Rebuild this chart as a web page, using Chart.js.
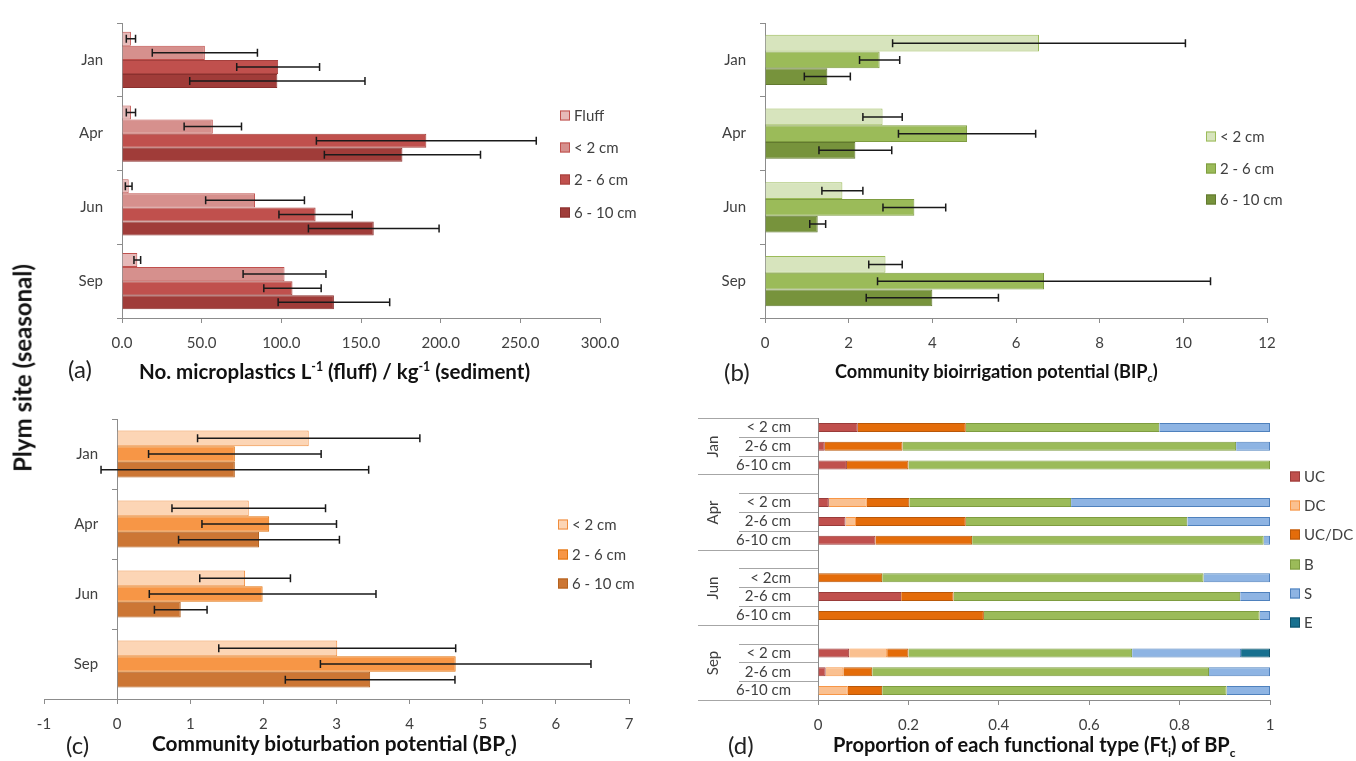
<!DOCTYPE html>
<html>
<head>
<meta charset="utf-8">
<script src="https://cdn.jsdelivr.net/npm/chart.js@4.4.1/dist/chart.umd.min.js"></script>
<style>
  body { margin: 0; background: #fff; width: 1356px; height: 761px; position: relative; overflow: hidden;
         font-family: Lato, "Open Sans", sans-serif; color: #404040; }
  canvas { position: absolute; }
  .t { position: absolute; white-space: nowrap; line-height: 1; transform: translateY(-50%); }
  .lab { font-size: 24px; color: #222; }
  .ttl { font-weight: bold; color: #111; }
  .ttl sub, .ttl sup { font-size: 60%; }
  .leg { position: absolute; font-size: 15px; line-height: 1; white-space: nowrap; transform: translateY(-50%); }
  .leg i { display: inline-block; width: 8px; height: 8px; border: 1px solid; margin-right: 4px; vertical-align: 0; }
  #ylab { position: absolute; left: 22px; top: 368px; transform: translate(-50%, -50%) rotate(-90deg);
          font-size: 24px; font-weight: bold; color: #111; white-space: nowrap; }
</style>
</head>
<body>
<canvas id="chartA" width="620" height="360" style="left:40px;top:0px"></canvas>
<canvas id="chartB" width="656" height="360" style="left:700px;top:0px"></canvas>
<canvas id="chartC" width="660" height="340" style="left:0px;top:400px"></canvas>
<canvas id="chartD" width="666" height="371" style="left:690px;top:390px"></canvas>

<div id="ylab">Plym site (seasonal)</div>
<div class="t lab" style="left:68px;top:369px">(a)</div>
<div class="t ttl" style="left:139px;top:371px;font-size:20.5px">No. microplastics L<sup>-1</sup> (fluff) / kg<sup>-1</sup> (sediment)</div>
<div class="t lab" style="left:724px;top:372px">(b)</div>
<div class="t ttl" style="left:835px;top:373px;font-size:18.2px">Community bioirrigation potential (BIP<sub>c</sub>)</div>
<div class="t lab" style="left:66px;top:745px">(c)</div>
<div class="t ttl" style="left:152px;top:746px;font-size:20.8px">Community bioturbation potential (BP<sub>c</sub>)</div>
<div class="t lab" style="left:728px;top:745px">(d)</div>
<div class="t ttl" style="left:833px;top:746px;font-size:20px">Proportion of each functional type (Ft<sub>i</sub>) of BP<sub>c</sub></div>

<script>
/* ===== Data ===== */
const MONTHS = ['Jan', 'Apr', 'Jun', 'Sep'];

// (a) microplastics per L (fluff) / kg (sediment)
const MP_SERIES   = ['Fluff', '< 2 cm', '2 - 6 cm', '6 - 10 cm'];
const mpFluff     = [5.6, 5.6, 4.2, 9.6];
const mpFluffErr  = [2.9, 2.9, 2.1, 2.1];
const mpLt2       = [52, 57, 83.5, 102];
const mpLt2Err    = [33, 18, 31, 26];
const mp2to6      = [98, 191, 121.5, 107];
const mp2to6Err   = [26, 69, 23, 18];
const mp6to10     = [97.5, 176, 158, 133];
const mp6to10Err  = [55, 49, 41, 35];

// (b) community bioirrigation potential
const DEPTHS      = ['< 2 cm', '2 - 6 cm', '6 - 10 cm'];
const bipLt2      = [6.55, 2.81, 1.85, 2.88];
const bipLt2Err   = [3.5, 0.47, 0.49, 0.4];
const bip2to6     = [2.74, 4.83, 3.57, 6.67];
const bip2to6Err  = [0.48, 1.64, 0.75, 3.98];
const bip6to10    = [1.49, 2.16, 1.26, 4.0];
const bip6to10Err = [0.55, 0.87, 0.19, 1.58];

// (c) community bioturbation potential
const bpLt2       = [2.62, 1.80, 1.75, 3.01];
const bpLt2Err    = [1.52, 1.05, 0.62, 1.62];
const bp2to6      = [1.61, 2.08, 1.99, 4.63];
const bp2to6Err   = [1.18, 0.92, 1.55, 1.85];
const bp6to10     = [1.61, 1.94, 0.87, 3.46];
const bp6to10Err  = [1.83, 1.10, 0.36, 1.16];

// (d) proportion of each functional type, rows grouped by month ('' = spacer row)
const FT_ROWS  = ['< 2 cm', '2-6 cm', '6-10 cm', '', '< 2 cm', '2-6 cm', '6-10 cm', '',
                  '< 2cm', '2-6 cm', '6-10 cm', '', '< 2 cm', '2-6 cm', '6-10 cm'];
const FT_TYPES = ['UC', 'DC', 'UC/DC', 'B', 'S', 'E'];
const ftUC   = [0.088, 0.015, 0.064, null, 0.024, 0.061, 0.127, null, 0,     0.184, 0,     null, 0.069, 0.017, 0];
const ftDC   = [0,     0,     0,     null, 0.084, 0.023, 0,     null, 0,     0,     0,     null, 0.084, 0.039, 0.066];
const ftUCDC = [0.239, 0.172, 0.136, null, 0.094, 0.243, 0.214, null, 0.142, 0.116, 0.367, null, 0.047, 0.064, 0.076];
const ftB    = [0.428, 0.738, 0.800, null, 0.358, 0.490, 0.645, null, 0.711, 0.634, 0.610, null, 0.495, 0.745, 0.762];
const ftS    = [0.245, 0.075, 0,     null, 0.440, 0.183, 0.014, null, 0.147, 0.066, 0.023, null, 0.241, 0.135, 0.096];
const ftE    = [0,     0,     0,     null, 0,     0,     0,     null, 0,     0,     0,     null, 0.064, 0,     0];

/* ===== Styling helpers ===== */
const AXIS_GREY = '#8c8c8c';
const TEXT = '#404040';
Chart.defaults.font.family = 'Lato, "Open Sans", sans-serif';
Chart.defaults.font.size = 15;
Chart.defaults.color = TEXT;
Chart.defaults.animation = false;

function valueAxis(min, max, step, h, fmt) {
  return {
    type: 'linear', min, max,
    ticks: { stepSize: step, padding: 11, color: TEXT, callback: fmt },
    grid: { drawOnChartArea: false, drawTicks: true, tickLength: 5, color: AXIS_GREY },
    border: { color: AXIS_GREY },
    afterFit: s => { s.height = h; },
  };
}

function categoryAxis(w, extra) {
  return Object.assign({
    type: 'category',
    ticks: { padding: 14, color: TEXT },
    grid: { offset: true, drawOnChartArea: false, tickLength: 5, color: AXIS_GREY },
    border: { color: AXIS_GREY },
    afterFit: s => { s.width = w; },
  }, extra || {});
}

function bars(label, data, errors, bg, border) {
  return { label, data, errors, backgroundColor: bg, borderColor: border, borderWidth: 1 };
}

/* ===== Error bars plugin ===== */
const errorBars = {
  id: 'errorBars',
  afterDatasetsDraw(chart) {
    const { ctx } = chart;
    const xs = chart.scales.x;
    chart.data.datasets.forEach((ds, di) => {
      if (!ds.errors) {return;}
      chart.getDatasetMeta(di).data.forEach((bar, i) => {
        const v = ds.data[i], e = ds.errors[i];
        const x0 = xs.getPixelForValue(v - e), x1 = xs.getPixelForValue(v + e);
        const y = bar.y;
        ctx.save();
        ctx.strokeStyle = '#1a1a1a';
        ctx.lineWidth = 1.5;
        ctx.beginPath();
        ctx.moveTo(x0, y); ctx.lineTo(x1, y);
        ctx.moveTo(x0, y - 4); ctx.lineTo(x0, y + 4);
        ctx.moveTo(x1, y - 4); ctx.lineTo(x1, y + 4);
        ctx.stroke();
        ctx.restore();
      });
    });
  }
};

function barOptions(xAxis, yAxis, pad, catPct) {
  return {
    responsive: false,
    indexAxis: 'y',
    layout: { padding: pad },
    datasets: { bar: { categoryPercentage: catPct, barPercentage: 1 } },
    plugins: { legend: { display: false }, tooltip: { enabled: false } },
    scales: { x: xAxis, y: yAxis },
  };
}

/* ===== (a) microplastics ===== */
new Chart(document.getElementById('chartA'), {
  type: 'bar',
  data: {
    labels: MONTHS,
    datasets: [
      bars(MP_SERIES[0], mpFluff, mpFluffErr, '#E6B9B8', '#C0504D'),
      bars(MP_SERIES[1], mpLt2,   mpLt2Err,   '#D6908D', '#C0504D'),
      bars(MP_SERIES[2], mp2to6,  mp2to6Err,  '#C0504D', '#A5403D'),
      bars(MP_SERIES[3], mp6to10, mp6to10Err, '#A03C39', '#8A302E'),
    ],
  },
  options: barOptions(valueAxis(0, 300, 50, 42, v => v.toFixed(1)), categoryAxis(82),
                      { top: 16, right: 60, left: 0, bottom: 0 }, 0.76),
  plugins: [errorBars],
});

/* ===== (b) bioirrigation ===== */
new Chart(document.getElementById('chartB'), {
  type: 'bar',
  data: {
    labels: MONTHS,
    datasets: [
      bars(DEPTHS[0], bipLt2,   bipLt2Err,   '#D7E4BD', '#9BBB59'),
      bars(DEPTHS[1], bip2to6,  bip2to6Err,  '#9BBB59', '#7E9C40'),
      bars(DEPTHS[2], bip6to10, bip6to10Err, '#77933C', '#62792F'),
    ],
  },
  options: barOptions(valueAxis(0, 12, 2, 42), categoryAxis(65),
                      { top: 18, right: 89, left: 0, bottom: 0 }, 0.68),
  plugins: [errorBars],
});

/* ===== (c) bioturbation: category axis crosses at 0 ===== */
const labelsAtZero = {
  id: 'labelsAtZero',
  afterDraw(chart) {
    const { ctx, scales: { x, y } } = chart;
    ctx.save();
    ctx.font = '15px Lato, "Open Sans", sans-serif';
    ctx.fillStyle = TEXT;
    ctx.textAlign = 'right';
    ctx.textBaseline = 'middle';
    y.getLabels().forEach((l, i) => ctx.fillText(l, x.getPixelForValue(0) - 19, y.getPixelForValue(i)));
    ctx.restore();
  }
};

new Chart(document.getElementById('chartC'), {
  type: 'bar',
  data: {
    labels: MONTHS,
    datasets: [
      bars(DEPTHS[0], bpLt2,   bpLt2Err,   '#FCD5B5', '#F08C3C'),
      bars(DEPTHS[1], bp2to6,  bp2to6Err,  '#F79646', '#E0740F'),
      bars(DEPTHS[2], bp6to10, bp6to10Err, '#CC7634', '#B4621F'),
    ],
  },
  options: barOptions(valueAxis(-1, 7, 1, 41),
                      categoryAxis(0, { position: { x: 0 }, ticks: { display: false } }),
                      { top: 19, right: 31, left: 44, bottom: 0 }, 0.67),
  plugins: [errorBars, labelsAtZero],
});

/* ===== (d) functional types, two-level category axis ===== */
const groupAxis = {
  id: 'groupAxis',
  afterDraw(chart) {
    const { ctx, scales: { y }, chartArea } = chart;
    const step = y.getPixelForValue(1) - y.getPixelForValue(0);
    const edge = i => Math.round(y.getPixelForValue(i) - step / 2) + 0.5;
    const ax = chartArea.left;
    // group starts: first row and each row after a spacer
    const starts = [0];
    FT_ROWS.forEach((r, i) => { if (r === '') {starts.push(i);} });
    const ends = starts.slice(1).concat(FT_ROWS.length);
    ctx.save();
    ctx.strokeStyle = '#a6a6a6';
    ctx.lineWidth = 1;
    ctx.beginPath();
    for (let i = 0; i <= FT_ROWS.length; i++) {
      const long = starts.includes(i) || i === FT_ROWS.length;
      ctx.moveTo(ax - (long ? 120 : 79), edge(i));
      ctx.lineTo(ax, edge(i));
    }
    ctx.stroke();
    ctx.font = '15px Lato, "Open Sans", sans-serif';
    ctx.fillStyle = TEXT;
    ctx.textAlign = 'center';
    ctx.textBaseline = 'middle';
    MONTHS.forEach((m, g) => {
      const cy = (edge(starts[g]) + edge(ends[g])) / 2;
      ctx.save();
      ctx.translate(ax - 105, cy);
      ctx.rotate(-Math.PI / 2);
      ctx.fillText(m, 0, 0);
      ctx.restore();
    });
    ctx.restore();
  }
};

function ftSet(label, data, bg, border) {
  return { label, data, backgroundColor: bg, borderColor: border,
           borderWidth: c => (c.raw ? 1 : 0), categoryPercentage: 1, barPercentage: 0.48 };
}

new Chart(document.getElementById('chartD'), {
  type: 'bar',
  data: {
    labels: FT_ROWS,
    datasets: [
      ftSet(FT_TYPES[0], ftUC,   '#C0504D', '#9A3B39'),
      ftSet(FT_TYPES[1], ftDC,   '#FAC090', '#F79646'),
      ftSet(FT_TYPES[2], ftUCDC, '#E46C0A', '#B95708'),
      ftSet(FT_TYPES[3], ftB,    '#9BBB59', '#7E9C40'),
      ftSet(FT_TYPES[4], ftS,    '#8EB4E3', '#4F81BD'),
      ftSet(FT_TYPES[5], ftE,    '#17708F', '#0E5068'),
    ],
  },
  options: {
    responsive: false,
    indexAxis: 'y',
    layout: { padding: { top: 13, right: 86, left: 0, bottom: 0 } },
    plugins: { legend: { display: false }, tooltip: { enabled: false } },
    scales: {
      x: Object.assign(valueAxis(0, 1, 0.2, 61, v => String(Math.round(v * 10) / 10)), { stacked: true }),
      y: { type: 'category', stacked: true,
           ticks: { padding: 19, color: TEXT, autoSkip: false },
           grid: { display: false },
           border: { color: AXIS_GREY },
           afterFit: s => { s.width = 128; } },
    },
  },
  plugins: [groupAxis],
});

/* ===== HTML legends ===== */
function legend(x, y0, dy, names, fills, borders) {
  names.forEach((n, i) => {
    const d = document.createElement('div');
    d.className = 'leg';
    d.style.left = x + 'px';
    d.style.top = (y0 + i * dy) + 'px';
    const box = document.createElement('i');
    box.style.background = fills[i];
    box.style.borderColor = borders[i];
    d.appendChild(box);
    d.appendChild(document.createTextNode(n));
    document.body.appendChild(d);
  });
}

legend(560, 115, 32.2, MP_SERIES, ['#E6B9B8', '#D6908D', '#C0504D', '#A03C39'], ['#C0504D', '#C0504D', '#A5403D', '#8A302E']);
legend(1206, 136, 31.7, DEPTHS, ['#D7E4BD', '#9BBB59', '#77933C'], ['#9BBB59', '#7E9C40', '#62792F']);
legend(558, 524, 29.7, DEPTHS, ['#FCD5B5', '#F79646', '#CC7634'], ['#F08C3C', '#E0740F', '#B4621F']);
legend(1290, 476, 29.2, FT_TYPES, ['#C0504D', '#FAC090', '#E46C0A', '#9BBB59', '#8EB4E3', '#17708F'],
       ['#9A3B39', '#F79646', '#B95708', '#7E9C40', '#4F81BD', '#0E5068']);
</script>
</body>
</html>
